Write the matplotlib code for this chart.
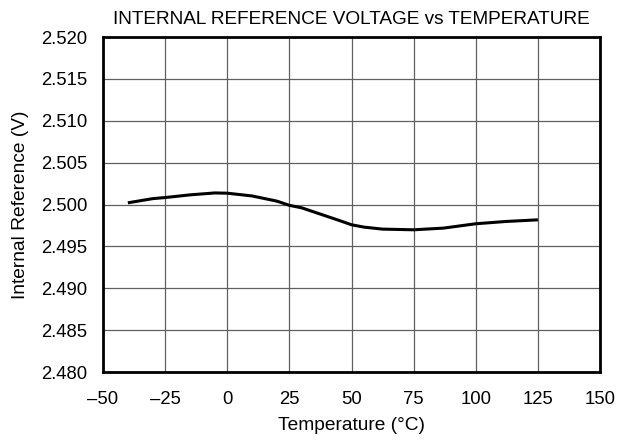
import matplotlib
matplotlib.use("Agg")
import matplotlib.pyplot as plt

plt.rcParams['font.family'] = ['Liberation Sans', 'DejaVu Sans']

temperature = [-40, -30, -25, -15, -5, 0, 10, 20, 25, 30, 37, 45, 50, 55, 62.5, 75, 87, 100, 112, 125]
voltage = [2.5002, 2.5007, 2.50083, 2.50115, 2.50138, 2.50135, 2.50102, 2.5004, 2.4999, 2.4996,
           2.4989, 2.4981, 2.49758, 2.4973, 2.49706, 2.49698, 2.49718, 2.4977, 2.49797, 2.49817]
x_ticks = [-50, -25, 0, 25, 50, 75, 100, 125, 150]
x_labels = ['–50', '–25', '0', '25', '50', '75', '100', '125', '150']
y_ticks = [2.480, 2.485, 2.490, 2.495, 2.500, 2.505, 2.510, 2.515, 2.520]
y_labels = ['2.480', '2.485', '2.490', '2.495', '2.500', '2.505', '2.510', '2.515', '2.520']

fig = plt.figure(figsize=(6.21, 4.44), dpi=100)
ax = fig.add_axes([103/621, 1-372/444, (600-103)/621, (372-37)/444])
ax.plot(temperature, voltage, color='black', lw=2.2, solid_capstyle='butt')
ax.set_xlim(-50, 150)
ax.set_ylim(2.480, 2.520)
ax.set_xticks(x_ticks)
ax.set_xticklabels(x_labels)
ax.set_yticks(y_ticks)
ax.set_yticklabels(y_labels)
ax.tick_params(length=0, labelsize=13.3)
ax.tick_params(axis='x', pad=14)
ax.tick_params(axis='y', pad=11)
ax.grid(True, color='#606060', lw=0.9)
for s in ax.spines.values():
    s.set_linewidth(2)
ax.set_xlabel('Temperature (°C)', fontsize=13.8, labelpad=6)
ax.set_ylabel('Internal Reference (V)', fontsize=13.8, labelpad=9)
ax.set_title('INTERNAL REFERENCE VOLTAGE vs TEMPERATURE', fontsize=13.7, pad=9)
fig.savefig('out.png', dpi=100)
